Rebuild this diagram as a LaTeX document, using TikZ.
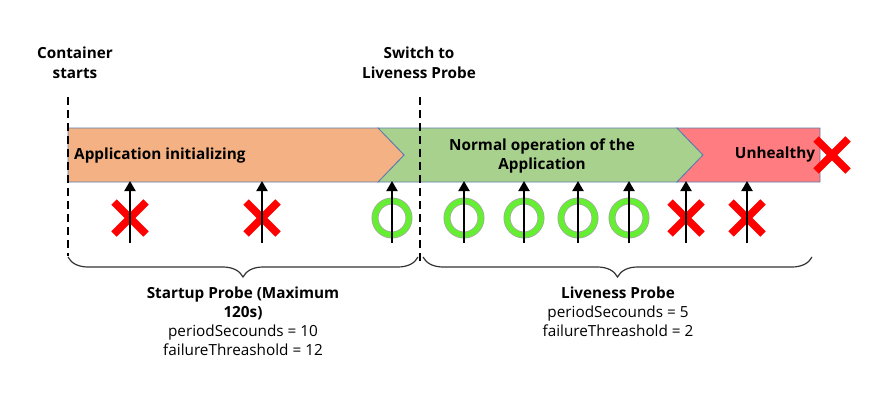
\documentclass[tikz,border=0pt]{standalone}
\usepackage{fontspec}
\setmainfont{Open Sans}
\usetikzlibrary{arrows.meta,decorations.pathreplacing}
\definecolor{orangefill}{HTML}{F4B183}
\definecolor{greenfill}{HTML}{A9D18E}
\definecolor{redfill}{HTML}{FF7C80}
\definecolor{barborder}{HTML}{5A7DAE}
\definecolor{okgreen}{HTML}{66EE33}
\begin{document}
\begin{tikzpicture}[x=1pt,y=-1pt,
  barpart/.style={draw=barborder,line width=0.8pt},
  boldlbl/.style={font=\bfseries\fontsize{15.3}{19.5}\selectfont,align=center,inner sep=0pt},
  infolbl/.style={font=\fontsize{15.3}{18.8}\selectfont,align=center,inner sep=0pt},
  guide/.style={dashed,dash pattern=on 8pt off 5pt,line width=1.5pt},
  probe/.style={line width=2pt,-{Triangle[width=11pt,length=10pt]}},
  failmark/.style={red,line width=7.5pt},
  okring/.style={okgreen,line width=5.5pt},
  bracestyle/.style={decorate,decoration={brace,mirror,amplitude=20pt,aspect=0.5},line width=1.2pt,black!80}
]
\useasboundingbox (0,0) rectangle (869,396);

% bar segments
\path[barpart,fill=greenfill] (378,128) -- (677,128) -- (703,155) -- (677,182) -- (378,182) -- (404,155) -- cycle;
\path[barpart,fill=orangefill] (68,128) -- (378,128) -- (404,155) -- (378,182) -- (68,182) -- cycle;
\path[barpart,fill=redfill] (677,128) -- (820,128) -- (820,182) -- (677,182) -- (703,155) -- cycle;

% labels
\node[boldlbl] (cs) at (75,63) {Container\\starts};
\node[boldlbl] (sw) at (419,63) {Switch to\\Liveness Probe};
\node[boldlbl,anchor=west] (init) at (74,156) {Application initializing};
\node[boldlbl] (normal) at (542,156) {Normal operation of the\\Application};
\node[boldlbl] (unh) at (775,155) {Unhealthy};

% guide lines
\coordinate (g1t) at (68,97); \coordinate (g1b) at (68,256);
\coordinate (g2t) at (420,97); \coordinate (g2b) at (420,263);
\draw[guide] (g1t) -- (g1b);
\draw[guide] (g2t) -- (g2b);

% marks
\foreach \x in {130,262,686,747}{
  \draw[failmark] (\x-16,202) -- (\x+16,234);
  \draw[failmark] (\x-16,234) -- (\x+16,202);
}
\draw[failmark] (816,139) -- (848,171);
\draw[failmark] (816,171) -- (848,139);
\foreach \x in {392,464,524,578,629}{
  \draw[gray!70,line width=7pt] (\x,218) circle (17);
  \draw[okring] (\x,218) circle (17);
}

% probe arrows
\foreach \x [count=\i] in {130,262,392,464,524,578,629,686,747}{
  \coordinate (pb\i) at (\x,243);
  \coordinate (pt\i) at (\x,181);
  \draw[probe] (pb\i) -- (pt\i);
}

% braces
\coordinate (b1l) at (68,257); \coordinate (b1r) at (418,257);
\coordinate (b2l) at (423,257); \coordinate (b2r) at (812,257);
\draw[bracestyle] (b1l) -- (b1r);
\draw[bracestyle] (b2l) -- (b2r);

\node[infolbl,anchor=north] (startup) at (243,287) {\textbf{Startup Probe (Maximum}\\\textbf{120s)}\\periodSecounds = 10\\failureThreashold = 12};
\node[infolbl,anchor=north] (live) at (618,287) {\textbf{Liveness Probe}\\periodSecounds = 5\\failureThreashold = 2};
\end{tikzpicture}
\end{document}
